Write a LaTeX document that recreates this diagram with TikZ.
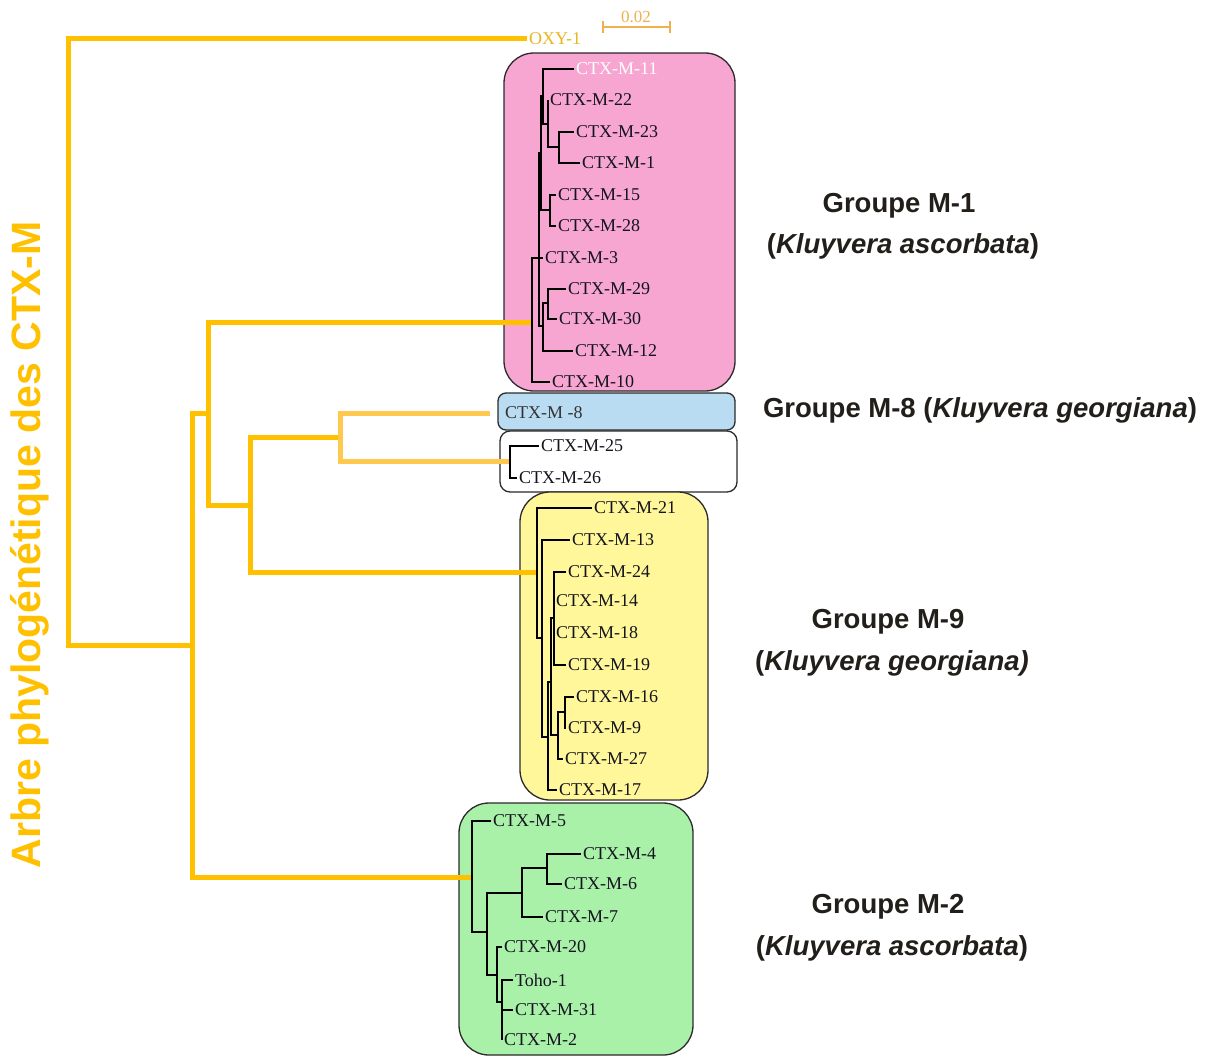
\documentclass[tikz,border=0pt]{standalone}
\usepackage{fontspec}
\setmainfont{Liberation Serif}
\newfontfamily\arialf{Liberation Sans}
\definecolor{goldc}{HTML}{FFC000}
\definecolor{goldtwo}{HTML}{FFC84F}
\definecolor{oxyc}{HTML}{E9B620}
\definecolor{scalec}{HTML}{F0B050}
\definecolor{pinkc}{HTML}{F7A6D2}
\definecolor{bluec}{HTML}{B9DCF2}
\definecolor{yelc}{HTML}{FFF799}
\definecolor{greenc}{HTML}{A9F0A9}
\definecolor{boxc}{HTML}{2B2B2B}
\definecolor{txtc}{HTML}{14141E}
\definecolor{grpc}{HTML}{221E1A}
\begin{document}
\begin{tikzpicture}[x=1pt,y=-1pt,
  gold/.style={line width=5pt,draw=goldc},
  goldlight/.style={line width=5pt,draw=goldtwo},
  br/.style={line width=1.3pt,draw=black},
  leaf/.style={anchor=west,inner xsep=2pt,inner ysep=0pt,font=\fontsize{18}{18}\selectfont,text=txtc},
  grp/.style={font=\arialf\bfseries\fontsize{27.5}{33}\selectfont,text=grpc,align=center,inner sep=0pt},
  gbox/.style={draw=boxc,line width=1.3pt,inner sep=0pt}]
\useasboundingbox (0,0) rectangle (1212,1057);
\fill[white] (0,0) rectangle (1212,1057);
% boxes
\node[gbox,fill=pinkc,minimum width=231pt,minimum height=338pt,rounded corners=30pt] (pinkbox) at (619.5,222) {};
\node[gbox,fill=bluec,minimum width=237pt,minimum height=37pt,rounded corners=8pt] (bluebox) at (616.5,411.5) {};
\node[gbox,fill=white,minimum width=237pt,minimum height=61pt,rounded corners=10pt] (whitebox) at (618.5,461.5) {};
\node[gbox,fill=yelc,minimum width=188pt,minimum height=308pt,rounded corners=30pt] (yelbox) at (614,646) {};
\node[gbox,fill=greenc,minimum width=234pt,minimum height=252pt,rounded corners=30pt] (greenbox) at (576,929) {};
% title
\node[rotate=90,font=\arialf\bfseries\fontsize{41}{41}\selectfont,text=goldc,inner sep=0pt] (title) at (30,545) {Arbre phylogénétique des CTX-M};
% scale bar
\coordinate (sbL) at (603,27);
\coordinate (sbR) at (670,27);
\draw[scalec,line width=1.2pt] (sbL) -- (sbR);
\draw[scalec,line width=1.2pt] ([yshift=-6pt]sbL) -- ([yshift=6pt]sbL);
\draw[scalec,line width=1.2pt] ([yshift=-6pt]sbR) -- ([yshift=6pt]sbR);
\node[font=\fontsize{17}{17}\selectfont,text=scalec,inner sep=0pt] (sbt) at (636,17) {0.02};
% backbone coordinates
\coordinate (root) at (68,340);
\coordinate (n1) at (192,645);
\coordinate (n2) at (208,413);
\coordinate (n3) at (250,505);
\coordinate (n4) at (340,437);
\coordinate (t8) at (490,413);
\coordinate (W) at (510,461);
\coordinate (A) at (532,322);
\coordinate (Y1) at (537,572);
\coordinate (G1) at (472,877);
\node[leaf,text=oxyc] (oxy) at (527,39) {OXY-1};
% gold backbone
\draw[gold] (root) |- (oxy.west);
\draw[gold] (root) |- (n1);
\draw[gold] (n1) |- (n2);
\draw[gold] (n1) |- (G1);
\draw[gold] (n2) |- (A);
\draw[gold] (n2) |- (n3);
\draw[gold] (n3) |- (Y1);
\draw[gold] (n3) |- (n4);
\draw[goldlight] (n4) |- (t8);
\draw[goldlight] (n4) |- (W);
% ---------- pink group
\coordinate (B) at (539,258);
\coordinate (C) at (541,153);
\coordinate (E) at (543,96);
\coordinate (G) at (548,124);
\coordinate (H) at (559,147);
\coordinate (F) at (550,210);
\coordinate (D) at (543,326);
\coordinate (I) at (548,303);
\node[leaf,text=white] (p11) at (574,69) {CTX-M-11};
\node[leaf] (p22) at (548,100) {CTX-M-22};
\node[leaf] (p23) at (574,132) {CTX-M-23};
\node[leaf] (p1) at (580,163) {CTX-M-1};
\node[leaf] (p15) at (556,195) {CTX-M-15};
\node[leaf] (p28) at (556,226) {CTX-M-28};
\node[leaf] (p3) at (543,258) {CTX-M-3};
\node[leaf] (p29) at (566,289) {CTX-M-29};
\node[leaf] (p30) at (557,319) {CTX-M-30};
\node[leaf] (p12) at (573,351) {CTX-M-12};
\node[leaf] (p10) at (550,382) {CTX-M-10};
\draw[br] (A) |- (B);
\draw[br] (A) |- (p10.west);
\draw[br] (B) |- (C);
\draw[br] (B) |- (p3.west);
\draw[br] (B) |- (D);
\draw[br] (C) |- (E);
\draw[br] (C) |- (F);
\draw[br] (E) |- (p11.west);
\draw[br] (E) |- (G);
\draw[br] (G) |- (p22.west);
\draw[br] (G) |- (H);
\draw[br] (H) |- (p23.west);
\draw[br] (H) |- (p1.west);
\draw[br] (F) |- (p15.west);
\draw[br] (F) |- (p28.west);
\draw[br] (D) |- (I);
\draw[br] (D) |- (p12.west);
\draw[br] (I) |- (p29.west);
\draw[br] (I) |- (p30.west);
% ---------- M-8 and M-25/26
\node[leaf,text=black!80] (b8) at (503,413) {CTX-M -8};
\node[leaf] (w25) at (539,446) {CTX-M-25};
\node[leaf] (w26) at (517,478) {CTX-M-26};
\draw[br] (W) |- (w25.west);
\draw[br] (W) |- (w26.west);
% ---------- yellow group
\coordinate (Y2) at (542,638);
\coordinate (P) at (548,737);
\coordinate (Q) at (551,682);
\coordinate (R) at (554,618);
\coordinate (S) at (558,735);
\coordinate (T) at (565,712);
\node[leaf] (y21) at (592,508) {CTX-M-21};
\node[leaf] (y13) at (570,540) {CTX-M-13};
\node[leaf] (y24) at (566,572) {CTX-M-24};
\node[leaf] (y14) at (554,601) {CTX-M-14};
\node[leaf] (y18) at (554,633) {CTX-M-18};
\node[leaf] (y19) at (566,665) {CTX-M-19};
\node[leaf] (y16) at (574,697) {CTX-M-16};
\node[leaf] (y9) at (566,728) {CTX-M-9};
\node[leaf] (y27) at (563,759) {CTX-M-27};
\node[leaf] (y17) at (557,790) {CTX-M-17};
\draw[br] (Y1) |- (y21.west);
\draw[br] (Y1) |- (Y2);
\draw[br] (Y2) |- (y13.west);
\draw[br] (Y2) |- (P);
\draw[br] (P) |- (Q);
\draw[br] (P) |- (y17.west);
\draw[br] (Q) |- (R);
\draw[br] (Q) |- (S);
\draw[br] (R) |- (y24.west);
\draw[br] (R) |- (y14.west);
\draw[br] (R) |- (y18.west);
\draw[br] (R) |- (y19.west);
\draw[br] (S) |- (T);
\draw[br] (S) |- (y27.west);
\draw[br] (T) |- (y16.west);
\draw[br] (T) |- (y9.west);
% ---------- green group
\coordinate (G2) at (487,932);
\coordinate (G3) at (522,893);
\coordinate (G4) at (497,975);
\coordinate (G5) at (547,868);
\coordinate (G6) at (502,1002);
\node[leaf] (g5) at (491,821) {CTX-M-5};
\node[leaf] (g4) at (581,854) {CTX-M-4};
\node[leaf] (g6) at (562,884) {CTX-M-6};
\node[leaf] (g7) at (543,917) {CTX-M-7};
\node[leaf] (g20) at (502,947) {CTX-M-20};
\node[leaf] (gT) at (513,980) {Toho-1};
\node[leaf] (g31) at (513,1010) {CTX-M-31};
\node[leaf] (g2) at (502,1040) {CTX-M-2};
\draw[br,line width=2.4pt] (G1) |- (g5.west);
\draw[br,line width=2.4pt] (G1) |- (G2);
\draw[br] (G2) |- (G3);
\draw[br] (G2) |- (G4);
\draw[br] (G3) |- (G5);
\draw[br] (G3) |- (g7.west);
\draw[br] (G5) |- (g4.west);
\draw[br] (G5) |- (g6.west);
\draw[br] (G4) |- (g20.west);
\draw[br] (G4) |- (G6);
\draw[br] (G6) |- (gT.west);
\draw[br] (G6) |- (g31.west);
\draw[br] (G6) |- (g2.west);
% ---------- group labels
\node[grp] (gm1) at (899,206) {Groupe M-1};
\node[grp] (gm1s) at (903,246) {(\textit{Kluyvera ascorbata})};
\node[grp] (gm8) at (980,410) {Groupe M-8 (\textit{Kluyvera georgiana})};
\node[grp] (gm9) at (888,622) {Groupe M-9};
\node[grp] (gm9s) at (892,663) {(\textit{Kluyvera georgiana)}};
\node[grp] (gm2) at (888,907) {Groupe M-2};
\node[grp] (gm2s) at (892,948) {(\textit{Kluyvera ascorbata})};
\end{tikzpicture}
\end{document}
